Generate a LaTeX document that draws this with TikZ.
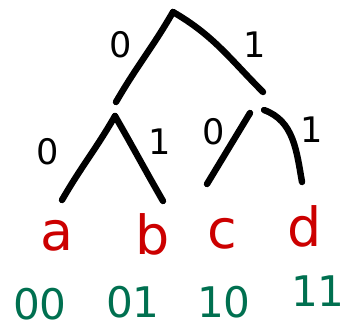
\documentclass[tikz,border=0pt]{standalone}
\usepackage{tikz}
\usepackage{fontspec}
\setmainfont{DejaVu Sans}
\usetikzlibrary{arrows.meta,topaths}
\definecolor{leafred}{RGB}{204,0,0}
\definecolor{codegreen}{RGB}{0,112,80}

\begin{document}
\begin{tikzpicture}[x=0.03cm,y=-0.03cm,
  branch/.style={line width=5.5pt,line cap=round,black},
  bit/.style={font=\fontsize{30}{30}\selectfont},
  leaf/.style={text=leafred,font=\fontsize{46}{46}\selectfont},
  code/.style={text=codegreen,font=\fontsize{36}{36}\selectfont,inner sep=1pt}
]
  \useasboundingbox (0,0) rectangle (346,330);
  % tree vertices
  \coordinate (R) at (173,12);
  \coordinate (L) at (116,102);
  \coordinate (Rr) at (263,92);
  \coordinate (La) at (115,116);
  \coordinate (Ra) at (250,113);
  \coordinate (Rb) at (264,110);
  \coordinate (A) at (62,200);
  \coordinate (B) at (163,201);
  \coordinate (C) at (207,184);
  \coordinate (D) at (302,182);

  \path[branch]
    (R) edge[out=-120,in=60] (L)
    (R) edge[out=-30,in=135] (Rr)
    (La) edge[out=-120,in=60] (A)
    (La) edge[out=-60,in=120] (B)
    (Ra) edge (C)
    (Rb) edge[out=-20,in=100] (D);

  \node[bit] (e0) at (121,45) {0};
  \node[bit] (e1) at (255,45) {1};
  \node[bit] (e00) at (48,152) {0};
  \node[bit] (e01) at (160,142) {1};
  \node[bit] (e10) at (214,132) {0};
  \node[bit] (e11) at (312,130) {1};

  \node[leaf] (a) at (57,236) {a};
  \node[leaf] (b) at (153,234) {b};
  \node[leaf] (c) at (222,234) {c};
  \node[leaf] (d) at (305,226) {d};

  \node[code] (ca) at (40,304) {00};
  \node[code] (cb) at (133,302) {01};
  \node[code] (cc) at (224,302) {10};
  \node[code] (cd) at (318,291) {11};
\end{tikzpicture}
\end{document}
